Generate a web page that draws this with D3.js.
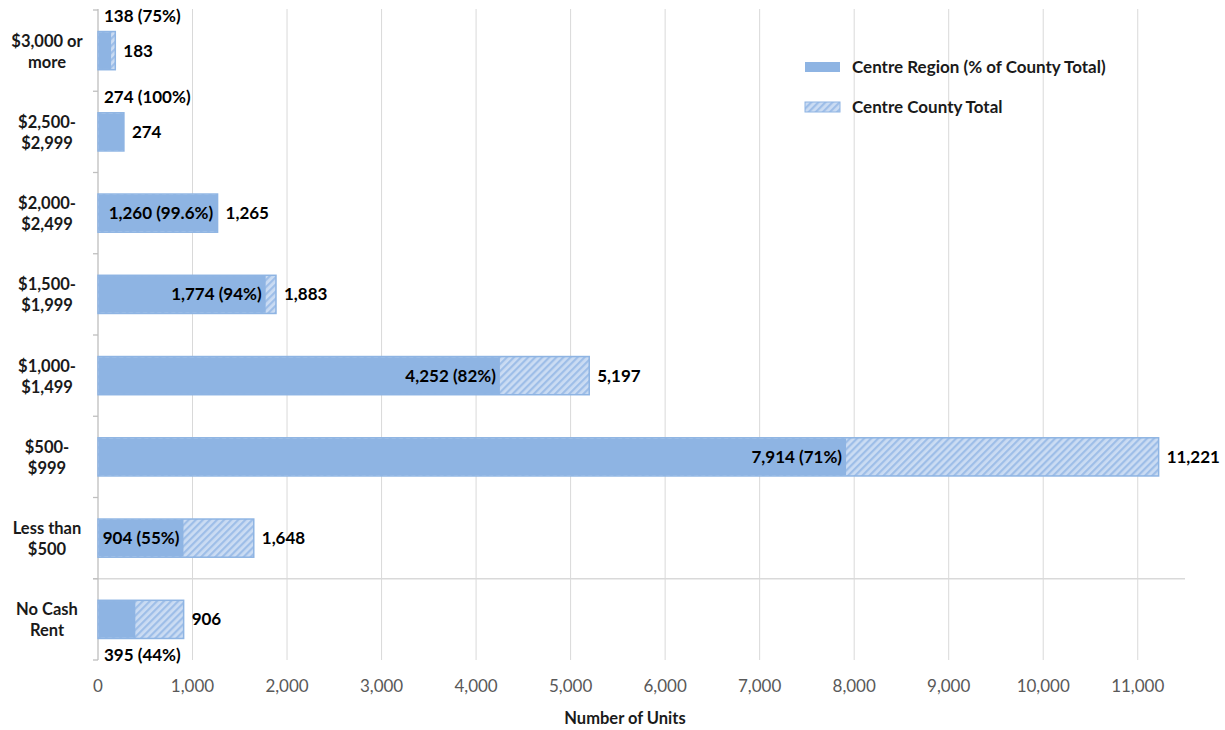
<!DOCTYPE html>
<html>
<head>
<meta charset="utf-8">
<script src="https://cdn.jsdelivr.net/npm/d3@7"></script>
<style>
  html, body { margin: 0; padding: 0; background: #fff; }
  svg { display: block; font-family: "Lato", "Open Sans", sans-serif; }
</style>
</head>
<body>
<svg id="chart" width="1225" height="730"></svg>
<script>
// Gross rent bands, top to bottom
const categories = [
  "$3,000 or more", "$2,500-$2,999", "$2,000-$2,499", "$1,500-$1,999",
  "$1,000-$1,499", "$500-$999", "Less than $500", "No Cash Rent"
];
const categoryLines = [
  ["$3,000 or", "more"], ["$2,500-", "$2,999"], ["$2,000-", "$2,499"], ["$1,500-", "$1,999"],
  ["$1,000-", "$1,499"], ["$500-", "$999"], ["Less than", "$500"], ["No Cash", "Rent"]
];
// Renter-occupied units
const regionUnits = [138, 274, 1260, 1774, 4252, 7914, 904, 395];
const regionShare = ["75%", "100%", "99.6%", "94%", "82%", "71%", "55%", "44%"];
const countyUnits = [183, 274, 1265, 1883, 5197, 11221, 1648, 906];
const xTicks = [0, 1000, 2000, 3000, 4000, 5000, 6000, 7000, 8000, 9000, 10000, 11000];
const seriesNames = ["Centre Region (% of County Total)", "Centre County Total"];

const svg = d3.select("#chart");
const fmt = d3.format(",");

const x = d3.scaleLinear().domain([0, 11500]).range([98, 1185]);
const y = d3.scaleBand().domain(categories).range([10, 660]).paddingInner(0.53).paddingOuter(0.265);
const band = d3.scaleBand().domain(categories).range([10, 660]);

// Diagonal hatch for the county totals
const defs = svg.append("defs");
const pat = defs.append("pattern")
  .attr("id", "hatch").attr("patternUnits", "userSpaceOnUse")
  .attr("width", 5).attr("height", 5)
  .attr("patternTransform", "rotate(45)");
pat.append("rect").attr("width", 5).attr("height", 5).attr("fill", "#CBDCF3");
pat.append("rect").attr("width", 2.2).attr("height", 5).attr("fill", "#9EBEE8");

// Vertical gridlines
svg.append("g").selectAll("line").data(xTicks.slice(1)).join("line")
  .attr("x1", d => x(d)).attr("x2", d => x(d))
  .attr("y1", 9).attr("y2", 660)
  .attr("stroke", "#D9D9D9").attr("stroke-width", 1);

// Horizontal reference line
svg.append("line")
  .attr("x1", 93).attr("x2", x(11500))
  .attr("y1", band("No Cash Rent")).attr("y2", band("No Cash Rent"))
  .attr("stroke", "#D9D9D9").attr("stroke-width", 1.3);

// Category axis
const yAxis = svg.append("g");
yAxis.append("line").attr("x1", x(0)).attr("x2", x(0)).attr("y1", 9).attr("y2", 660)
  .attr("stroke", "#BFBFBF").attr("stroke-width", 1.3);
const boundaries = categories.map(c => band(c)).concat([660]);
yAxis.selectAll("line.tick").data(boundaries).join("line").attr("class", "tick")
  .attr("x1", 93).attr("x2", x(0)).attr("y1", d => d).attr("y2", d => d)
  .attr("stroke", "#BFBFBF").attr("stroke-width", 1.3);

const catLabels = svg.append("g").selectAll("text").data(categories).join("text")
  .attr("x", 47).attr("text-anchor", "middle")
  .attr("font-size", 16.5).attr("font-weight", "bold").attr("fill", "#1a1a1a");
catLabels.each(function(c, i) {
  const cy = band(c) + band.bandwidth() / 2;
  d3.select(this).selectAll("tspan").data(categoryLines[i]).join("tspan")
    .attr("x", 47).attr("y", (d, j) => cy - 4 + j * 21).text(d => d);
});

// Value axis
const xAxis = svg.append("g");
xAxis.selectAll("text").data(xTicks).join("text")
  .attr("x", d => x(d)).attr("y", 692).attr("text-anchor", "middle")
  .attr("font-size", 17).attr("fill", "#595959").text(d => fmt(d));
svg.append("text").attr("x", 625).attr("y", 724).attr("text-anchor", "middle")
  .attr("font-size", 16.5).attr("font-weight", "bold").attr("fill", "#1a1a1a")
  .text("Number of Units");

// County total bars (hatched) with region bars over them
const rows = categories.map((c, i) => ({
  c, i, region: regionUnits[i], share: regionShare[i], county: countyUnits[i]
}));

svg.append("g").selectAll("rect").data(rows).join("rect")
  .attr("x", x(0)).attr("y", d => y(d.c))
  .attr("width", d => x(d.county) - x(0)).attr("height", y.bandwidth())
  .attr("fill", "url(#hatch)").attr("stroke", "#8EB4E3").attr("stroke-width", 1.5);

svg.append("g").selectAll("rect").data(rows).join("rect")
  .attr("x", x(0) + 0.75).attr("y", d => y(d.c) + 0.75)
  .attr("width", d => Math.max(0, x(d.region) - x(0) - 0.75)).attr("height", y.bandwidth() - 1.5)
  .attr("fill", "#8EB4E3");

// Total labels beyond each bar
svg.append("g").selectAll("text").data(rows).join("text")
  .attr("x", d => x(d.county) + 8).attr("y", d => y(d.c) + y.bandwidth() / 2 + 6)
  .attr("font-size", 17).attr("font-weight", "bold").attr("fill", "#000")
  .text(d => fmt(d.county));

// Region labels: inside the bar end when they fit, otherwise above (or below on the last row)
const regionLabels = svg.append("g").selectAll("text").data(rows).join("text")
  .attr("font-size", 17).attr("font-weight", "bold").attr("fill", "#000")
  .text(d => `${fmt(d.region)} (${d.share})`);
regionLabels.each(function(d) {
  const t = d3.select(this);
  const w = this.getComputedTextLength();
  const barW = x(d.region) - x(0);
  const mid = y(d.c) + y.bandwidth() / 2;
  if (w + 6 <= barW) {
    t.attr("x", x(d.region) - 4).attr("text-anchor", "end").attr("y", mid + 6);
  } else if (d.i === categories.length - 1) {
    t.attr("x", x(0) + 6).attr("y", y(d.c) + y.bandwidth() + 23);
  } else {
    t.attr("x", x(0) + 6).attr("y", y(d.c) - 10);
  }
});

// Legend
const legend = svg.append("g");
const items = [
  { name: seriesNames[0], fill: "#8EB4E3", stroke: "none", y: 67 },
  { name: seriesNames[1], fill: "url(#hatch)", stroke: "#8EB4E3", y: 107 }
];
legend.selectAll("rect").data(items).join("rect")
  .attr("x", 805).attr("y", d => d.y - 5).attr("width", 35).attr("height", 10)
  .attr("fill", d => d.fill).attr("stroke", d => d.stroke).attr("stroke-width", 1);
legend.selectAll("text").data(items).join("text")
  .attr("x", 852).attr("y", d => d.y + 6)
  .attr("font-size", 17).attr("font-weight", "bold").attr("fill", "#1a1a1a")
  .text(d => d.name);
</script>
</body>
</html>
